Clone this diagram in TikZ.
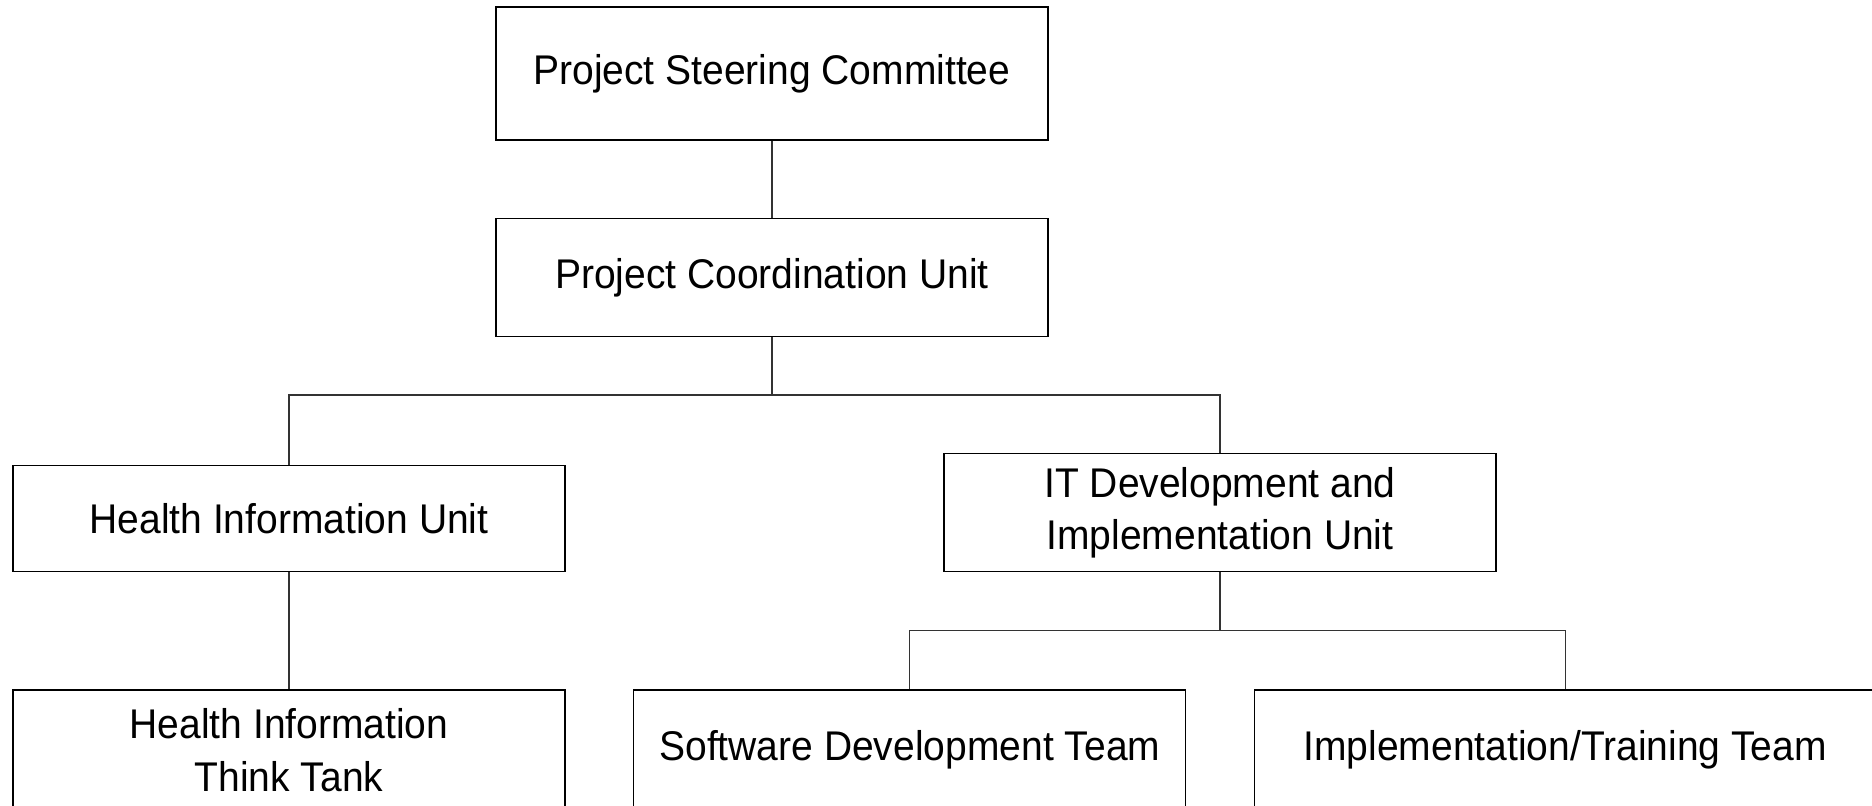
\documentclass[tikz,border=0pt]{standalone}
\usepackage{fontspec}
\setmainfont{Liberation Sans}[FakeStretch=0.94]
\usepackage{tikz}

\begin{document}
\begin{tikzpicture}[x=1pt,y=-1pt]
		\tikzstyle{every node}+=[inner sep=0pt]
		\tikzstyle{unit}=[draw=black, line width=1.2pt, minimum width=552pt, align=center, font=\fontsize{41.5}{52.5}\selectfont]
		\tikzstyle{link}=[draw=black!80, line width=1.2pt]
		\useasboundingbox (0,0) rectangle (1872,806);
		\node [unit, minimum height=133pt] (psc) at (771.9,73.5) {Project Steering Committee};
		\node [unit, minimum height=118pt] (pcu) at (771.9,277.6) {Project Coordination Unit};
		\node [unit, minimum height=106pt] (hiu) at (289,518.8) {Health Information Unit};
		\node [unit, minimum height=118pt] (itu) at (1220,512.8) {IT Development and\\Implementation Unit};
		\node [unit, minimum height=120pt] (hitt) at (289,750) {Health Information\\Think Tank};
		\node [unit, minimum height=120pt] (sdt) at (909.8,750) {Software Development Team};
		\node [unit, minimum height=120pt, minimum width=621pt] (itt) at (1565.2,750) {Implementation/Training Team};
		\coordinate (bus1) at (771.9,395);
		\coordinate (bus2) at (1220,630.4);
		\draw [link] (psc.south) -- (pcu.north);
		\draw [link] (pcu.south) -- (bus1);
		\draw [link] (hiu.north) |- (bus1) -| (itu.north);
		\draw [link] (hiu.south) -- (hitt.north);
		\draw [link] (itu.south) -- (bus2);
		\draw [link] (sdt.north) |- (bus2) -| (itt.north);
	\end{tikzpicture}
\end{document}
